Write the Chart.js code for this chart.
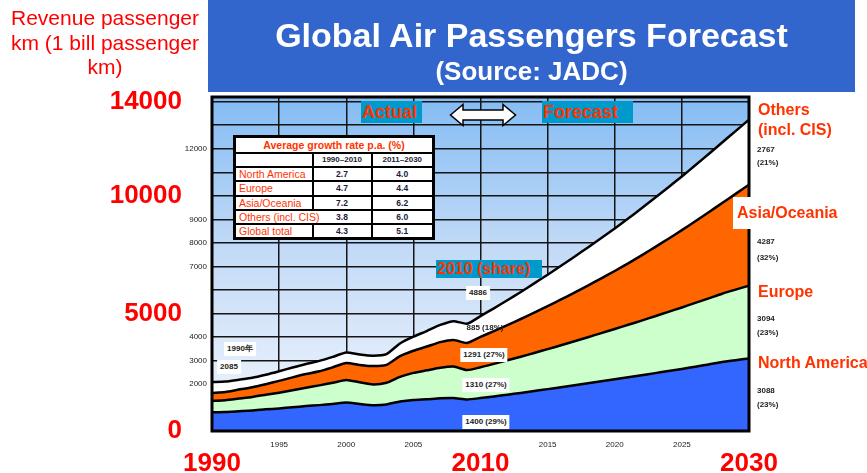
<!DOCTYPE html>
<html>
<head>
<meta charset="utf-8">
<script src="https://cdn.jsdelivr.net/npm/chart.js@4.4.1/dist/chart.umd.min.js"></script>
<style>
body { margin: 0; background: #fff; font-family: "Liberation Sans", Arial, sans-serif; }
#wrap { position: relative; width: 867px; height: 473px; overflow: hidden; }
#chart { position: absolute; left: 0; top: 0; }
.abs { position: absolute; white-space: nowrap; }
#titleBox { left: 208px; top: 0; width: 647px; height: 92px; background: #3366cc; color: #fff; text-align: center; font-weight: bold; }
#titleBox .t1 { position: absolute; left: 0; right: 0; top: 15px; font-size: 34px; line-height: 40px; }
#titleBox .t2 { position: absolute; left: 0; right: 0; top: 56px; font-size: 26px; line-height: 30px; }
#yTitle { left: 0; top: 6px; width: 210px; text-align: center; color: #ff0000; font-size: 21px; line-height: 24.5px; }
.tag { background: #0099cc; color: #ff3300; font-weight: bold; }
.val { background: #fff; color: #222; font-weight: bold; font-size: 8px; line-height: 10px; padding: 2px 3px; transform: translate(-50%, -50%); }
.rl { left: 758px; color: #ff3300; font-weight: bold; font-size: 16px; line-height: 18px; }
.rv { left: 757px; color: #222; font-weight: bold; font-size: 8px; line-height: 10px; }
#growth { position: absolute; left: 233px; top: 135px; width: 201px; height: 105px; border-collapse: collapse; border: 3px solid #000; background: #fff; table-layout: fixed; }
#growth td { border: 2px solid #000; padding: 0; height: 12px; font-size: 8px; line-height: 10px; white-space: nowrap; }
#growth td.ttl { color: #ff3300; font-weight: bold; font-size: 10.5px; text-align: center; height: 14px; }
#growth td.hd { color: #223; font-weight: bold; text-align: center; }
#growth td.nm { color: #ff3300; font-size: 10.5px; padding-left: 3px; overflow: visible; position: relative; }
#growth td.nm span { position: relative; z-index: 1; background: #fff; padding-right: 2px; }
#growth td.v { color: #1a1a40; font-weight: bold; text-align: center; font-size: 8.5px; }
</style>
</head>
<body>
<div id="wrap">
  <canvas id="chart" width="867" height="473"></canvas>

  <div id="titleBox" class="abs">
    <div class="t1">Global Air Passengers Forecast</div>
    <div class="t2">(Source: JADC)</div>
  </div>
  <div id="yTitle" class="abs">Revenue passenger<br>km (1 bill passenger<br>km)</div>

  <table id="growth"></table>

  <div class="abs tag" style="left:361px;top:101px;width:61px;height:22px;font-size:18px;line-height:22px;padding-left:1px;box-sizing:border-box;">Actual</div>
  <svg class="abs" style="left:449px;top:103px;" width="68" height="24" viewBox="0 0 68 24">
    <path d="M1.5 12 L14 1.5 L14 7 L54 7 L54 1.5 L66.5 12 L54 22.5 L54 17 L14 17 L14 22.5 Z" fill="#fff" stroke="#000" stroke-width="1.5"/>
  </svg>
  <div class="abs tag" style="left:542px;top:101px;width:91px;height:22px;font-size:18px;line-height:22px;padding-left:1px;box-sizing:border-box;">Forecast</div>
  <div class="abs tag" style="left:436px;top:260px;width:106px;height:18px;font-size:16px;line-height:18px;padding-left:1px;box-sizing:border-box;">2010 (share)</div>

  <div id="lblTotal" class="abs val" style="left:478px;top:293px;"></div>
  <div id="lblOthers" class="abs val" style="left:485px;top:328px;background:none;"></div>
  <div id="lblAsia" class="abs val" style="left:484px;top:355px;"></div>
  <div id="lblEurope" class="abs val" style="left:486px;top:385px;"></div>
  <div id="lblNA" class="abs val" style="left:486px;top:422px;"></div>
  <div class="abs val" style="left:240px;top:349px;">1990年</div>
  <div id="lblStart" class="abs val" style="left:229px;top:367px;"></div>

  <div class="abs rl" style="top:101px;">Others</div>
  <div class="abs rl" style="top:121px;">(incl. CIS)</div>
  <div id="r2030Others" class="abs rv" style="top:145px;"></div>
  <div id="r2030OthersP" class="abs rv" style="top:158px;"></div>
  <div class="abs" style="left:733px;top:197px;width:112px;height:32px;background:#fff;"></div>
  <div class="abs rl" style="left:737px;top:204px;">Asia/Oceania</div>
  <div id="r2030Asia" class="abs rv" style="top:237px;"></div>
  <div id="r2030AsiaP" class="abs rv" style="top:253px;"></div>
  <div class="abs rl" style="top:283px;">Europe</div>
  <div id="r2030Eu" class="abs rv" style="top:314px;"></div>
  <div id="r2030EuP" class="abs rv" style="top:328px;"></div>
  <div class="abs rl" style="top:354px;">North America</div>
  <div id="r2030NA" class="abs rv" style="top:386px;"></div>
  <div id="r2030NAP" class="abs rv" style="top:400px;"></div>
</div>

<script>
'use strict'

const years = [1990, 1991, 1992, 1993, 1994, 1995, 1996, 1997, 1998, 1999,
  2000, 2001, 2002, 2003, 2004, 2005, 2006, 2007, 2008, 2009,
  2010, 2011, 2012, 2013, 2014, 2015, 2016, 2017, 2018, 2019,
  2020, 2021, 2022, 2023, 2024, 2025, 2026, 2027, 2028, 2029, 2030];

// revenue passenger km, billions
const naValues = [800, 810, 840, 870, 920, 960, 1010, 1060, 1100, 1150,
  1210, 1150, 1100, 1130, 1250, 1320, 1350, 1390, 1400, 1340,
  1400, 1470, 1545, 1620, 1700, 1780, 1860, 1945, 2030, 2115,
  2200, 2285, 2370, 2460, 2550, 2640, 2735, 2830, 2930, 3010, 3088];
const euValues = [480, 500, 540, 580, 620, 670, 720, 780, 840, 900,
  960, 920, 880, 920, 1050, 1150, 1230, 1300, 1340, 1250,
  1310, 1385, 1460, 1538, 1618, 1700, 1784, 1870, 1958, 2048,
  2138, 2230, 2324, 2419, 2515, 2613, 2713, 2810, 2905, 3000, 3094];
const asiaValues = [330, 350, 380, 410, 450, 500, 550, 580, 600, 660,
  720, 740, 780, 760, 880, 940, 1010, 1090, 1130, 1150,
  1291, 1391, 1496, 1604, 1716, 1831, 1949, 2071, 2197, 2327,
  2465, 2615, 2775, 2940, 3110, 3285, 3470, 3660, 3860, 4070, 4287];
const othersValues = [475, 440, 420, 400, 400, 410, 420, 430, 440, 440,
  450, 440, 440, 460, 540, 600, 660, 730, 800, 820,
  885, 970, 1060, 1150, 1240, 1335, 1430, 1525, 1620, 1715,
  1810, 1905, 2000, 2095, 2190, 2285, 2380, 2475, 2570, 2670, 2767];

const share2010 = [29, 27, 27, 18]; // NA, Europe, Asia, Others
const share2030 = [23, 23, 32, 21];

const yGridValues = [0, 1000, 2000, 3000, 4000, 5000, 6000, 7000, 8000, 9000, 10000, 11000, 12000, 13000, 14000];
const smallYTicks = [2000, 3000, 4000, 7000, 8000, 9000, 12000];
const bigYTicks = [0, 5000, 10000, 14000];
const xGridValues = [1990, 1995, 2000, 2005, 2010, 2015, 2020, 2025, 2030];
const smallXTicks = [1995, 2000, 2005, 2015, 2020, 2025];
const bigXTicks = [1990, 2010, 2030];

const regionNames = ['North America', 'Europe', 'Asia/Oceania', 'Others (incl. CIS)', 'Global total'];
const growth1990to2010 = ['2.7', '4.7', '7.2', '3.8', '4.3'];
const growth2011to2030 = ['4.0', '4.4', '6.2', '6.0', '5.1'];

// growth table
const tableElement = document.getElementById('growth');
let rows = '<colgroup><col style="width:78px"><col style="width:59px"><col style="width:62px"></colgroup>';
rows += '<tr><td colspan="3" class="ttl">Average growth rate p.a. (%)</td></tr>';
rows += '<tr><td></td><td class="hd">1990–2010</td><td class="hd">2011–2030</td></tr>';
for (let i = 0; i < regionNames.length; i++) {
  rows += '<tr><td class="nm"><span>' + regionNames[i] + '</span></td><td class="v">' + growth1990to2010[i] +
    '</td><td class="v">' + growth2011to2030[i] + '</td></tr>';
}
tableElement.innerHTML = rows;

// value labels
const i2010 = years.indexOf(2010);
const last = years.length - 1;
function setText(id, text) {
  document.getElementById(id).textContent = text;
}
setText('lblTotal', naValues[i2010] + euValues[i2010] + asiaValues[i2010] + othersValues[i2010]);
setText('lblNA', naValues[i2010] + ' (' + share2010[0] + '%)');
setText('lblEurope', euValues[i2010] + ' (' + share2010[1] + '%)');
setText('lblAsia', asiaValues[i2010] + ' (' + share2010[2] + '%)');
setText('lblOthers', othersValues[i2010] + ' (' + share2010[3] + '%)');
setText('lblStart', naValues[0] + euValues[0] + asiaValues[0] + othersValues[0]);
setText('r2030NA', naValues[last]);
setText('r2030NAP', '(' + share2030[0] + '%)');
setText('r2030Eu', euValues[last]);
setText('r2030EuP', '(' + share2030[1] + '%)');
setText('r2030Asia', asiaValues[last]);
setText('r2030AsiaP', '(' + share2030[2] + '%)');
setText('r2030Others', othersValues[last]);
setText('r2030OthersP', '(' + share2030[3] + '%)');

function toPoints(values) {
  return values.map((v, i) => ({ x: years[i], y: v }));
}

function series(label, values, color, fill) {
  return {
    label: label,
    data: toPoints(values),
    backgroundColor: color,
    borderColor: '#000',
    borderWidth: 2.5,
    pointRadius: 0,
    tension: 0.2,
    fill: fill
  };
}

const plotFrame = {
  id: 'plotFrame',
  beforeDraw(chart) {
    const { ctx, chartArea: a } = chart;
    const g = ctx.createLinearGradient(0, a.top, 0, a.bottom);
    g.addColorStop(0, '#84bcf3');
    g.addColorStop(0.45, '#c2daf7');
    g.addColorStop(1, '#f3f7fd');
    ctx.save();
    ctx.fillStyle = g;
    ctx.fillRect(a.left, a.top, a.width, a.height);
    ctx.restore();
  },
  afterDatasetsDraw(chart) {
    const { ctx, chartArea: a } = chart;
    ctx.save();
    ctx.strokeStyle = '#000';
    ctx.lineWidth = 3;
    ctx.strokeRect(a.left, a.top, a.width, a.height);
    ctx.restore();
  }
};

Chart.defaults.font.family = '"Liberation Sans", Arial, sans-serif';

const yMax = 14200;

function fixedTicks(values) {
  return scale => { scale.ticks = values.map(v => ({ value: v })); };
}

new Chart(document.getElementById('chart'), {
  type: 'line',
  data: {
    datasets: [
      series('North America', naValues, '#3366ff', 'origin'),
      series('Europe', euValues, '#ccffcc', '-1'),
      series('Asia/Oceania', asiaValues, '#ff6600', '-1'),
      series('Others (incl. CIS)', othersValues, '#ffffff', '-1')
    ]
  },
  options: {
    responsive: false,
    animation: false,
    devicePixelRatio: 1,
    layout: { padding: { top: 97, right: 118, left: 0, bottom: 0 } },
    plugins: { legend: { display: false }, tooltip: { enabled: false } },
    scales: {
      x: {
        type: 'linear', position: 'bottom', weight: 0, min: 1990, max: 2030,
        grid: { color: '#151515', lineWidth: 1.5, drawTicks: false },
        border: { display: false },
        afterBuildTicks: fixedTicks(xGridValues),
        ticks: {
          autoSkip: false, maxRotation: 0, padding: 9, color: '#222',
          font: { size: 8 },
          callback: v => smallXTicks.includes(v) ? String(v) : ''
        },
        afterFit: s => { s.height = 19; }
      },
      x2: {
        type: 'linear', position: 'bottom', weight: 1, min: 1990, max: 2030,
        grid: { display: false, drawTicks: false },
        border: { display: false },
        afterBuildTicks: fixedTicks(bigXTicks),
        ticks: {
          autoSkip: false, maxRotation: 0, padding: -2, color: '#ff0000',
          font: { size: 26, weight: 'bold' },
          callback: v => String(v)
        },
        afterFit: s => { s.height = 23; }
      },
      y: {
        type: 'linear', position: 'left', weight: 0, stacked: true, min: 0, max: yMax,
        grid: { color: '#151515', lineWidth: 1.5, drawTicks: false },
        border: { display: false },
        afterBuildTicks: fixedTicks(yGridValues),
        ticks: {
          autoSkip: false, padding: 5, color: '#222',
          font: { size: 8 },
          callback: v => smallYTicks.includes(v) ? String(v) : ''
        },
        afterFit: s => { s.width = 30; }
      },
      y2: {
        type: 'linear', position: 'left', weight: 1, min: 0, max: yMax,
        grid: { display: false, drawTicks: false },
        border: { display: false },
        afterBuildTicks: fixedTicks(bigYTicks),
        ticks: {
          autoSkip: false, padding: 0, color: '#ff0000',
          font: { size: 26, weight: 'bold' },
          callback: v => String(v)
        },
        afterFit: s => { s.width = 182; }
      }
    }
  },
  plugins: [plotFrame]
});
</script>
</body>
</html>
